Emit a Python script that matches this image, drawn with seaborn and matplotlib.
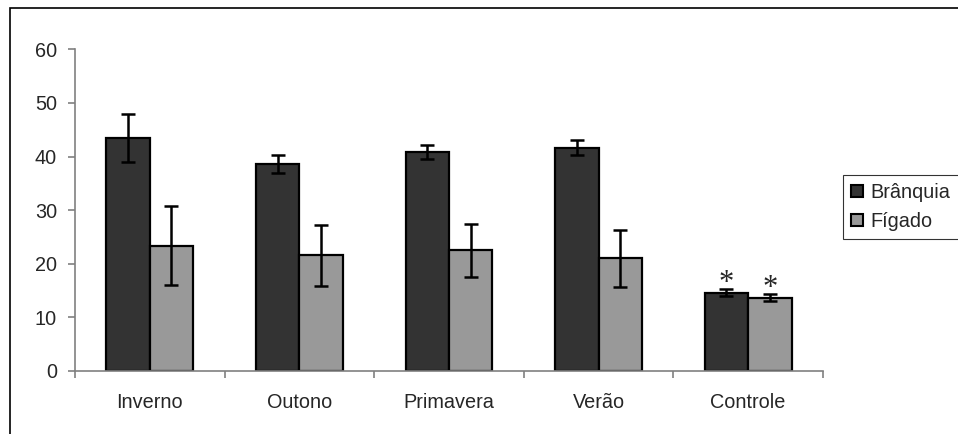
import pandas as pd
import matplotlib.pyplot as plt
import seaborn as sns
from matplotlib.patches import Rectangle

# values
estacoes = ['Inverno', 'Outono', 'Primavera', 'Verão', 'Controle']
branquia = [43.4, 38.6, 40.8, 41.6, 14.6]
branquia_err = [4.5, 1.6, 1.3, 1.4, 0.6]
figado = [23.4, 21.6, 22.5, 21.0, 13.7]
figado_err = [7.3, 5.7, 5.0, 5.3, 0.6]
tecidos = ['Brânquia', 'Fígado']
cores = ['#333333', '#999999']
marcados = ['Controle']  # groups with asterisk

sns.set_style('white')
plt.rcParams['font.family'] = ['Liberation Sans', 'DejaVu Sans']
FS = 14.3

df = pd.DataFrame({
    'estacao': estacoes * 2,
    'tecido': [tecidos[0]] * len(estacoes) + [tecidos[1]] * len(estacoes),
    'valor': branquia + figado,
    'erro': branquia_err + figado_err,
})

fig = plt.figure(figsize=(9.58, 4.34), dpi=100)
ax = fig.add_axes([0.0783, 0.1452, 0.7807, 0.7412])

sns.barplot(data=df, x='estacao', y='valor', hue='tecido', order=estacoes,
            hue_order=tecidos, palette=cores, width=0.58, errorbar=None,
            edgecolor='black', linewidth=1.6, ax=ax)

# error bars and asterisks on top of the bars seaborn drew
bars = [p for p in ax.patches if p.get_height() > 0][:len(df)]
for p, (_, row) in zip(bars, df.iterrows()):
    xc = p.get_x() + p.get_width() / 2
    ax.errorbar(xc, row['valor'], yerr=row['erro'], color='black',
                elinewidth=1.8, capsize=5, capthick=1.8, zorder=5)
    if row['estacao'] in marcados:
        ax.text(xc, row['valor'] + row['erro'] - 1.6, '*', ha='center',
                va='bottom', fontsize=22, family='Liberation Serif')

ax.set_ylim(0, 60)
ax.set_xlim(-0.5, len(estacoes) - 0.5)
ax.set_yticks(range(0, 61, 10))
ax.set_xlabel('')
ax.set_ylabel('')

for s in ['top', 'right']:
    ax.spines[s].set_visible(False)
for s in ['left', 'bottom']:
    ax.spines[s].set_color('#808080')
    ax.spines[s].set_linewidth(1.2)

ax.tick_params(axis='y', which='major', left=True, length=5, width=1.2,
               color='#808080', pad=8, labelsize=FS)
ax.tick_params(axis='x', which='major', bottom=False, pad=12, labelsize=FS)
ax.set_xticks([i - 0.5 for i in range(len(estacoes) + 1)], minor=True)
ax.tick_params(axis='x', which='minor', bottom=True, length=5, width=1.2,
               color='#808080')

leg = ax.legend(loc='upper left', bbox_to_anchor=(843 / 958, 1 - 175 / 434),
                bbox_transform=fig.transFigure, frameon=True, fancybox=False,
                fontsize=FS, handlelength=0.6, handleheight=0.6,
                handletextpad=0.4, borderpad=0.4, labelspacing=0.5,
                borderaxespad=0)
leg.get_frame().set_edgecolor('black')
leg.get_frame().set_linewidth(0.8)
for h in leg.legend_handles:
    h.set_edgecolor('black')
    h.set_linewidth(1.5)

# outer chart frame (only top and left visible)
fig.add_artist(Rectangle((9.5 / 958, -0.1), 1.2, 1.1 - 8 / 434,
                         transform=fig.transFigure, fill=False,
                         edgecolor='black', linewidth=1.2))

fig.savefig('out.png', dpi=100)
